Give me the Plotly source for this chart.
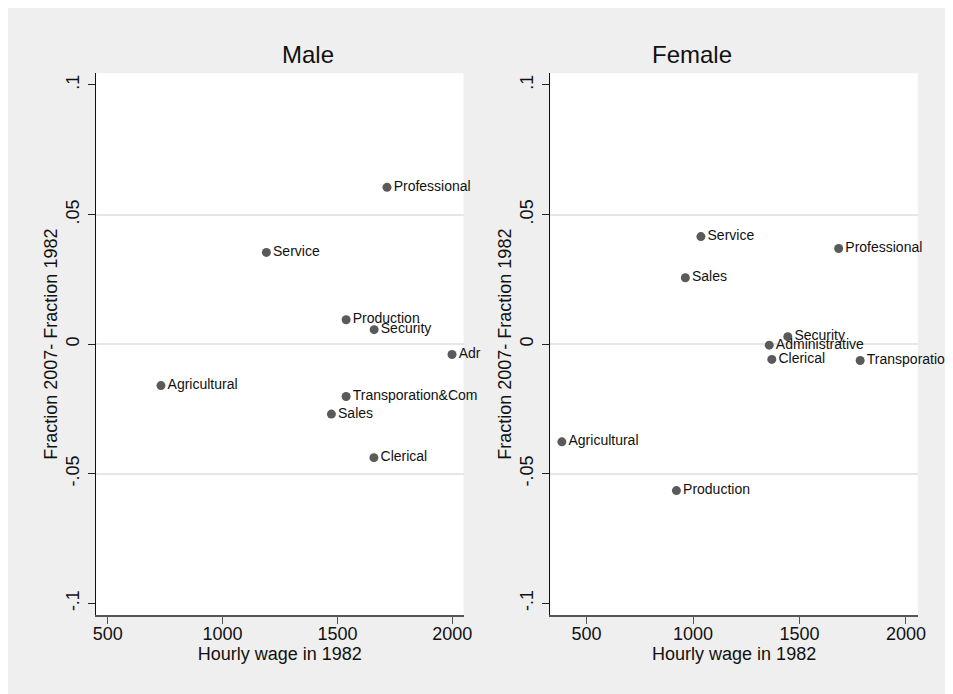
import plotly.graph_objects as go

BG = "#efefef"
DOT = "#5a5a5a"
FONT = "Liberation Sans, Arial, sans-serif"

male_occ = ["Professional", "Service", "Production", "Security", "Adr",
            "Agricultural", "Transporation&Com", "Sales", "Clerical"]
male_wage = [1716, 1191, 1538, 1660, 1999, 732, 1538, 1474, 1659]
male_diff = [0.0605, 0.0354, 0.0094, 0.0056, -0.0040, -0.0160, -0.0202, -0.0270, -0.0438]

female_occ = ["Service", "Professional", "Sales", "Security", "Administrative",
              "Clerical", "Transporation&Com", "Agricultural", "Production"]
female_wage = [1037, 1684, 964, 1445, 1358, 1370, 1785, 384, 922]
female_diff = [0.0415, 0.0369, 0.0256, 0.0029, -0.0004, -0.0059, -0.0063, -0.0377, -0.0565]

y_ticks = [-0.1, -0.05, 0, 0.05, 0.1]
y_ticktext = ["-.1", "-.05", "0", ".05", ".1"]
y_grid = [-0.05, 0, 0.05]
x_ticks = [500, 1000, 1500, 2000]

fig = go.Figure()
for occ, wage, diff, ax in [(male_occ, male_wage, male_diff, "x"),
                            (female_occ, female_wage, female_diff, "x2")]:
    fig.add_trace(go.Scatter(
        x=wage, y=diff, text=occ, mode="markers+text",
        textposition="middle right", cliponaxis=False,
        marker=dict(color=DOT, size=9),
        textfont=dict(family=FONT, size=14, color="#111111"),
        xaxis=ax, yaxis="y" if ax == "x" else "y2", showlegend=False,
        hoverinfo="skip",
    ))

xcommon = dict(
    tickvals=x_ticks, ticks="outside", ticklen=7, tickcolor="#555555",
    showline=True, linecolor="#555555", linewidth=1.5, showgrid=False, zeroline=False,
    ticklabelstandoff=-5,
    tickfont=dict(family=FONT, size=18, color="#111111"),
    title=dict(text="Hourly wage in 1982", font=dict(family=FONT, size=18, color="#111111"),
               standoff=1),
)
ycommon = dict(
    range=[-0.1045, 0.1045], tickvals=y_ticks, ticktext=y_ticktext, tickangle=-90,
    ticks="outside", ticklen=7, tickcolor="#222222", ticklabelstandoff=2,
    showline=True, linecolor="#111111", linewidth=1, showgrid=False, zeroline=False,
    minor=dict(tickvals=y_grid, showgrid=True, gridcolor="#e6e6e6", gridwidth=1.5),
    tickfont=dict(family=FONT, size=18, color="#111111"),
    title=dict(text="Fraction 2007- Fraction 1982", font=dict(family=FONT, size=18, color="#111111"),
               standoff=0),
)

fig.update_layout(
    width=945, height=686,
    margin=dict(l=0, r=0, t=0, b=0),
    paper_bgcolor=BG, plot_bgcolor="white",
    xaxis=dict(domain=[0.0913, 0.4850], range=[450, 2049], anchor="y", **xcommon),
    xaxis2=dict(domain=[0.5781, 0.9720], range=[330, 2056], anchor="y2", **xcommon),
    yaxis=dict(domain=[0.1152, 0.9048], anchor="x", **ycommon),
    yaxis2=dict(domain=[0.1152, 0.9048], anchor="x2", **ycommon),
    annotations=[
        dict(text="Male", x=0.2878, y=0.9329, xref="paper", yref="paper",
             showarrow=False, yanchor="middle", font=dict(family=FONT, size=24, color="#111111")),
        dict(text="Female", x=0.7746, y=0.9329, xref="paper", yref="paper",
             showarrow=False, yanchor="middle", font=dict(family=FONT, size=24, color="#111111")),
    ],
)

fig.write_html("out.html")
